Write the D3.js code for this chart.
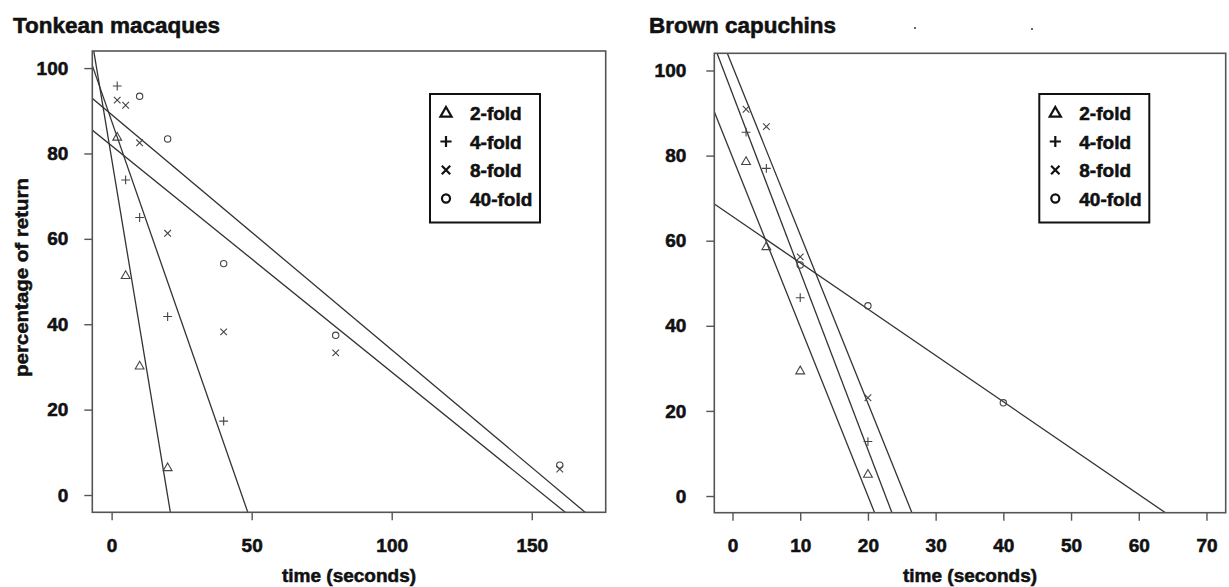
<!DOCTYPE html>
<html>
<head>
<meta charset="utf-8">
<script src="https://cdn.jsdelivr.net/npm/d3@7"></script>
<style>
  html, body { margin: 0; padding: 0; background: #fff; }
  svg { display: block; font-family: "Liberation Sans", Arial, sans-serif; }
  .heavy { stroke: #111; stroke-width: 0.55px; paint-order: stroke; }
</style>
</head>
<body>
<svg id="chart" width="1229" height="587"></svg>
<script>
// ---------------- data ----------------
const seriesNames = ["2-fold", "4-fold", "8-fold", "40-fold"];
const seriesSymbols = ["triangle", "plus", "cross", "circle"];

// Tonkean macaques
const macaqueX2 = [2, 5, 10, 20];
const macaqueY2 = [83.8, 51.4, 30.2, 6.4];
const macaqueX4 = [2, 5, 10, 20, 40];
const macaqueY4 = [95.8, 73.8, 65.0, 41.8, 17.3];
const macaqueX8 = [2, 5, 10, 20, 40, 80, 160];
const macaqueY8 = [92.5, 91.3, 82.5, 61.3, 38.2, 33.3, 6.1];
const macaqueX40 = [10, 20, 40, 80, 160];
const macaqueY40 = [93.4, 83.4, 54.2, 37.4, 7.0];
const macaqueIntercepts = [78.8, 87.6, 81.8, 89.1];
const macaqueSlopes = [-3.95, -1.885, -0.530, -0.551];
const macaqueXTicks = [0, 50, 100, 150];

// Brown capuchins
const capuchinX2 = [2, 5, 10, 20];
const capuchinY2 = [78.6, 58.6, 29.4, 5.1];
const capuchinX4 = [2, 5, 10, 20];
const capuchinY4 = [85.5, 77.0, 46.6, 12.8];
const capuchinX8 = [2, 5, 10, 20];
const capuchinY8 = [90.9, 86.8, 56.2, 23.1];
const capuchinX40 = [10, 20, 40];
const capuchinY40 = [54.3, 44.7, 21.9];
const capuchinIntercepts = [79.6, 94.5, 101.0, 65.7];
const capuchinSlopes = [-3.98, -4.18, -3.96, -1.089];
const capuchinXTicks = [0, 10, 20, 30, 40, 50, 60, 70];

const yTicks = [0, 20, 40, 60, 80, 100];

// ---------------- drawing ----------------
const svg = d3.select("#chart");

function symbolPath(type, r) {
  if (type === "triangle") {
    const h = r * 1.75;
    return `M0,${-h * 0.62}L${r},${h * 0.38}L${-r},${h * 0.38}Z`;
  }
  if (type === "plus") return `M${-r},0H${r}M0,${-r}V${r}`;
  if (type === "cross") { const a = r * 0.75; return `M${-a},${-a}L${a},${a}M${-a},${a}L${a},${-a}`; }
  const p = d3.path(); p.arc(0, 0, r * 0.72, 0, 2 * Math.PI); return p.toString();
}

function panel(cfg) {
  const x = d3.scaleLinear().domain(cfg.xDomain).range([cfg.left, cfg.right]);
  const y = d3.scaleLinear().domain(cfg.yDomain).range([cfg.bottom, cfg.top]);
  const g = svg.append("g");

  const clipId = "clip-" + cfg.id;
  svg.append("clipPath").attr("id", clipId)
    .append("rect").attr("x", cfg.left).attr("y", cfg.top)
    .attr("width", cfg.right - cfg.left).attr("height", cfg.bottom - cfg.top);

  // regression lines
  const lineG = g.append("g").attr("clip-path", `url(#${clipId})`);
  cfg.intercepts.forEach((b, i) => {
    const m = cfg.slopes[i];
    const x0 = cfg.xDomain[0] - 10, x1 = cfg.xDomain[1] + 10;
    lineG.append("line")
      .attr("x1", x(x0)).attr("y1", y(b + m * x0))
      .attr("x2", x(x1)).attr("y2", y(b + m * x1))
      .attr("stroke", "#333").attr("stroke-width", 1.3);
  });

  // points
  cfg.series.forEach((s, i) => {
    s.xs.forEach((xv, j) => {
      g.append("path")
        .attr("transform", `translate(${x(xv)},${y(s.ys[j])})`)
        .attr("d", symbolPath(seriesSymbols[i], 4.4))
        .attr("fill", "none").attr("stroke", "#444").attr("stroke-width", 1.1);
    });
  });

  // box
  g.append("rect").attr("x", cfg.left).attr("y", cfg.top)
    .attr("width", cfg.right - cfg.left).attr("height", cfg.bottom - cfg.top)
    .attr("fill", "none").attr("stroke", "#555").attr("stroke-width", 1.6);

  // x axis
  const xAxis = d3.axisBottom(x).tickValues(cfg.xTicks).tickSize(8).tickPadding(18).tickSizeOuter(0);
  const xa = g.append("g").attr("transform", `translate(0,${cfg.bottom})`).call(xAxis);
  xa.select(".domain").remove();
  xa.selectAll("line").attr("stroke", "#555").attr("stroke-width", 1.4);
  xa.selectAll("text").attr("font-size", 19).attr("font-weight", "bold").attr("fill", "#111")
    .attr("class", "heavy").attr("font-family", "'Liberation Sans', Arial, sans-serif");

  // y axis
  const yAxis = d3.axisLeft(y).tickValues(yTicks).tickSize(8).tickPadding(cfg.yPad).tickSizeOuter(0);
  const ya = g.append("g").attr("transform", `translate(${cfg.left},0)`).call(yAxis);
  ya.select(".domain").remove();
  ya.selectAll("line").attr("stroke", "#555").attr("stroke-width", 1.4);
  ya.selectAll("text").attr("font-size", 19).attr("font-weight", "bold").attr("fill", "#111")
    .attr("class", "heavy").attr("font-family", "'Liberation Sans', Arial, sans-serif");

  // title
  g.append("text").attr("x", cfg.titleX).attr("y", 33).attr("class", "heavy")
    .attr("font-size", 22).attr("font-weight", "bold").attr("fill", "#111")
    .attr("textLength", cfg.titleLen).attr("lengthAdjust", "spacingAndGlyphs")
    .text(cfg.title);

  // x label
  g.append("text").attr("x", (cfg.left + cfg.right) / 2).attr("y", 582).attr("class", "heavy")
    .attr("text-anchor", "middle").attr("font-size", 19).attr("font-weight", "bold").attr("fill", "#111")
    .text("time (seconds)");

  // legend
  const lg = g.append("g").attr("transform", `translate(${cfg.legendX},94)`);
  lg.append("rect").attr("x", 0).attr("y", 0).attr("width", 110).attr("height", 128.5)
    .attr("fill", "#fff").attr("stroke", "#111").attr("stroke-width", 2);
  seriesNames.forEach((name, i) => {
    const cy = 19 + i * 28.5;
    lg.append("path").attr("transform", `translate(16,${cy})`)
      .attr("d", symbolPath(seriesSymbols[i], 5.6))
      .attr("fill", "none").attr("stroke", "#111").attr("stroke-width", 2.2);
    lg.append("text").attr("x", 40).attr("y", cy + 7).attr("class", "heavy")
      .attr("font-size", 19).attr("font-weight", "bold").attr("fill", "#111")
      .text(name);
  });
  return g;
}

panel({
  id: "mac", left: 92.3, right: 605.7, top: 51, bottom: 512.3,
  xDomain: [-6.9, 176.4], yDomain: [-4.05, 104], xTicks: macaqueXTicks, yPad: 16,
  intercepts: macaqueIntercepts, slopes: macaqueSlopes,
  series: [
    { xs: macaqueX2, ys: macaqueY2 }, { xs: macaqueX4, ys: macaqueY4 },
    { xs: macaqueX8, ys: macaqueY8 }, { xs: macaqueX40, ys: macaqueY40 }
  ],
  title: "Tonkean macaques", titleX: 13, titleLen: 207, legendX: 430
});

panel({
  id: "cap", left: 714.3, right: 1225.7, top: 53.3, bottom: 512.7,
  xDomain: [-2.69, 72.84], yDomain: [-3.92, 104.04], xTicks: capuchinXTicks, yPad: 20,
  intercepts: capuchinIntercepts, slopes: capuchinSlopes,
  series: [
    { xs: capuchinX2, ys: capuchinY2 }, { xs: capuchinX4, ys: capuchinY4 },
    { xs: capuchinX8, ys: capuchinY8 }, { xs: capuchinX40, ys: capuchinY40 }
  ],
  title: "Brown capuchins", titleX: 649, titleLen: 187, legendX: 1039.3
});

// y axis label (left panel only)
svg.append("text")
  .attr("transform", "translate(28,277.5) rotate(-90)").attr("class", "heavy")
  .attr("text-anchor", "middle").attr("font-size", 19).attr("font-weight", "bold").attr("fill", "#111")
  .attr("textLength", 199).attr("lengthAdjust", "spacingAndGlyphs")
  .text("percentage of return");

// small stray marks near the right title
svg.append("rect").attr("x", 914).attr("y", 27).attr("width", 2).attr("height", 2).attr("fill", "#666");
svg.append("rect").attr("x", 1031).attr("y", 28).attr("width", 2).attr("height", 2).attr("fill", "#666");
</script>
</body>
</html>
